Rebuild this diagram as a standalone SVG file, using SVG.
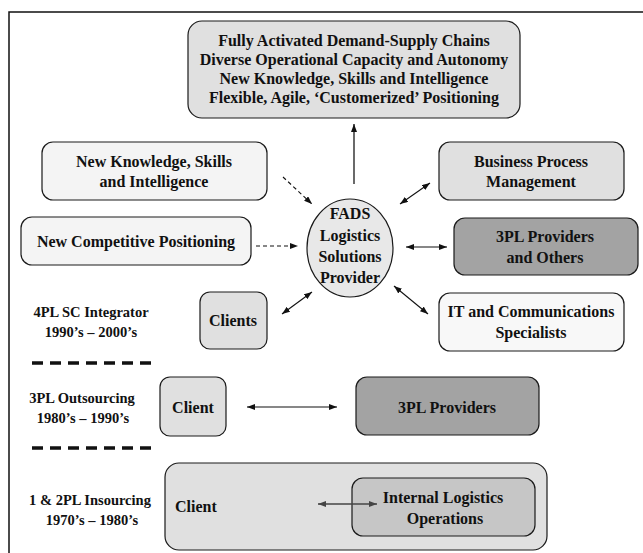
<svg xmlns="http://www.w3.org/2000/svg" width="643" height="553" viewBox="0 0 643 553">
  <style>
    text { font-family: "Liberation Serif", "Times New Roman", serif; font-weight: bold; fill: #111; text-anchor: middle; }
    .t16 { font-size: 16px; }
    .t15 { font-size: 14.5px; }
    .box { stroke: #1a1a1a; stroke-width: 1.2; }
    .light { fill: #e0e0e0; }
    .pale { fill: #f4f4f4; }
    .dark { fill: #a3a3a3; }
    .mid { fill: #c6c6c6; }
    .link { fill: none; stroke: #111; stroke-width: 1.1; }
    .dash { stroke-dasharray: 4 3; }
    .sep { stroke: #111; stroke-width: 3.5; stroke-dasharray: 11 7; }
  </style>
  <defs>
    <marker id="ah" viewBox="0 0 8 6" refX="8" refY="3" markerWidth="8" markerHeight="6" markerUnits="userSpaceOnUse" orient="auto-start-reverse">
      <path d="M0,0 L8,3 L0,6 z" fill="#111"/>
    </marker>
    <marker id="ahg" viewBox="0 0 8 6" refX="8" refY="3" markerWidth="8" markerHeight="6" markerUnits="userSpaceOnUse" orient="auto-start-reverse">
      <path d="M0,0 L8,3 L0,6 z" fill="#444"/>
    </marker>
  </defs>

  <rect width="643" height="553" fill="#fff"/>
  <!-- frame -->
  <path d="M9,553 V12 H643" fill="none" stroke="#111" stroke-width="1.5"/>

  <!-- era separators -->
  <g id="separators">
    <line class="sep" x1="32" y1="363" x2="156" y2="363"/>
    <line class="sep" x1="32" y1="448" x2="156" y2="448"/>
  </g>

  <!-- era labels -->
  <g id="era-4pl">
    <text class="t15" x="91" y="317">4PL SC Integrator</text>
    <text class="t15" x="91" y="337">1990’s – 2000’s</text>
  </g>
  <g id="era-3pl">
    <text class="t15" x="82" y="403">3PL Outsourcing</text>
    <text class="t15" x="83" y="423">1980’s – 1990’s</text>
  </g>
  <g id="era-12pl">
    <text class="t15" x="90" y="505">1 &amp; 2PL Insourcing</text>
    <text class="t15" x="92" y="525">1970’s – 1980’s</text>
  </g>

  <!-- 4PL era nodes -->
  <g id="outcomes">
    <rect class="box light" x="188" y="21" width="332" height="97" rx="14"/>
    <text class="t16" x="354" y="46">Fully Activated Demand-Supply Chains</text>
    <text class="t16" x="354" y="65">Diverse Operational Capacity and Autonomy</text>
    <text class="t16" x="354" y="84">New Knowledge, Skills and Intelligence</text>
    <text class="t16" x="354" y="103">Flexible, Agile, ‘Customerized’ Positioning</text>
  </g>
  <g id="knowledge">
    <rect class="box pale" x="42" y="142" width="225" height="58" rx="11"/>
    <text class="t16" x="154" y="167">New Knowledge, Skills</text>
    <text class="t16" x="154" y="187">and Intelligence</text>
  </g>
  <g id="positioning">
    <rect class="box pale" x="21" y="217" width="230" height="48" rx="11"/>
    <text class="t16" x="136" y="247">New Competitive Positioning</text>
  </g>
  <g id="fads">
    <ellipse class="box" cx="350" cy="248" rx="43" ry="49" fill="#e8e8e8"/>
    <text class="t16" x="350" y="219">FADS</text>
    <text class="t16" x="350" y="241">Logistics</text>
    <text class="t16" x="350" y="262">Solutions</text>
    <text class="t16" x="350" y="283">Provider</text>
  </g>
  <g id="clients">
    <rect class="box light" x="200" y="292" width="67" height="57" rx="10"/>
    <text class="t16" x="233" y="326">Clients</text>
  </g>
  <g id="bpm">
    <rect class="box light" x="439" y="142" width="185" height="58" rx="11"/>
    <text class="t16" x="531" y="167">Business Process</text>
    <text class="t16" x="531" y="187">Management</text>
  </g>
  <g id="providers-others">
    <rect class="box dark" x="454" y="218" width="184" height="57" rx="11"/>
    <text class="t16" x="545" y="242">3PL Providers</text>
    <text class="t16" x="545" y="263">and Others</text>
  </g>
  <g id="it-specialists">
    <rect class="box" x="439" y="293" width="185" height="58" rx="11" fill="#f8f8f8"/>
    <text class="t16" x="531" y="317">IT and Communications</text>
    <text class="t16" x="531" y="338">Specialists</text>
  </g>

  <!-- 3PL era nodes -->
  <g id="client-3pl">
    <rect class="box light" x="160" y="377" width="66" height="59" rx="10"/>
    <text class="t16" x="193" y="413">Client</text>
  </g>
  <g id="providers-3pl">
    <rect class="box dark" x="356" y="377" width="183" height="58" rx="11"/>
    <text class="t16" x="447" y="413">3PL Providers</text>
  </g>

  <!-- insourcing era nodes -->
  <g id="client-insourcing">
    <rect class="box light" x="165" y="463" width="382" height="87" rx="14"/>
    <text class="t16" x="175" y="512" style="text-anchor:start">Client</text>
  </g>
  <g id="internal-ops">
    <rect class="box mid" x="352" y="478" width="183" height="58" rx="11"/>
    <text class="t16" x="443" y="503">Internal Logistics</text>
    <text class="t16" x="445" y="524">Operations</text>
  </g>

  <!-- connectors -->
  <g id="connectors">
    <line x1="354" y1="184" x2="354" y2="124" stroke="#444" stroke-width="1.6" marker-end="url(#ah)"/>
    <line class="link dash" x1="283" y1="177" x2="312" y2="204" marker-end="url(#ah)"/>
    <line class="link dash" x1="256" y1="246" x2="298" y2="246" marker-end="url(#ah)"/>
    <line class="link" x1="400" y1="204" x2="430" y2="183" marker-start="url(#ah)" marker-end="url(#ah)"/>
    <line class="link" x1="406" y1="247" x2="447" y2="247" marker-start="url(#ah)" marker-end="url(#ah)"/>
    <line class="link" x1="394" y1="286" x2="428" y2="314" marker-start="url(#ah)" marker-end="url(#ah)"/>
    <line class="link" x1="282" y1="314" x2="312" y2="292" marker-start="url(#ah)" marker-end="url(#ah)"/>
    <line class="link" x1="247" y1="407" x2="337" y2="407" marker-start="url(#ah)" marker-end="url(#ah)"/>
    <line x1="318" y1="504" x2="377" y2="504" stroke="#444" stroke-width="1.3" marker-start="url(#ahg)" marker-end="url(#ahg)"/>
  </g>
</svg>
